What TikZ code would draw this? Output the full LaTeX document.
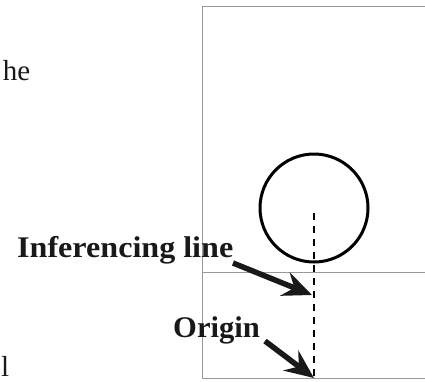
\documentclass[tikz,border=0pt]{standalone}
\usepackage{fontspec}
\setmainfont{Liberation Serif}
\usetikzlibrary{arrows.meta}
\begin{document}
\begin{tikzpicture}[x=1pt,y=-1pt,
  frameline/.style={draw=black!40,line width=0.9pt},
  label/.style={font=\fontsize{30}{32}\selectfont\bfseries,inner sep=0pt,text=black!90},
  side/.style={font=\fontsize{29}{30}\selectfont,inner sep=0pt,text=black!90},
  pointer/.style={line width=5.5pt,black!90,-{Stealth[length=29pt,width=25pt,inset=10pt]}},
  infline/.style={line width=2.4pt,dash pattern=on 7pt off 6pt}]
\useasboundingbox (0,0) rectangle (425,381);
% frame
\draw[frameline] (426,6.5) -- (202.5,6.5) -- (202.5,378.5) -- (426,378.5);
\draw[frameline] (202.5,272.5) -- (426,272.5);
% circle
\node[draw,circle,line width=3pt,minimum size=108pt,inner sep=0pt] (ball) at (314,208) {};
% inferencing line
\coordinate (top) at (314,213);
\coordinate (origin) at (314,378);
\coordinate (mid) at (312,295);
\draw[infline] (top) -- (origin);
% labels
\node[label,anchor=base west] (inf) at (17,257.5) {\scalebox{1.07}[1]{Inferencing line}};
\node[label,anchor=base west] (org) at (173,337.5) {\scalebox{1.02}[1]{Origin}};
\coordinate (infs) at (233,263);
\coordinate (orgs) at (265,341);
\draw[pointer] (infs) -- (mid);
\draw[pointer] (orgs) -- (origin);
% side text
\node[side,anchor=base east] (he) at (30.5,80) {he};
\node[side,anchor=base west] (ell) at (1,376) {l};
\end{tikzpicture}
\end{document}
